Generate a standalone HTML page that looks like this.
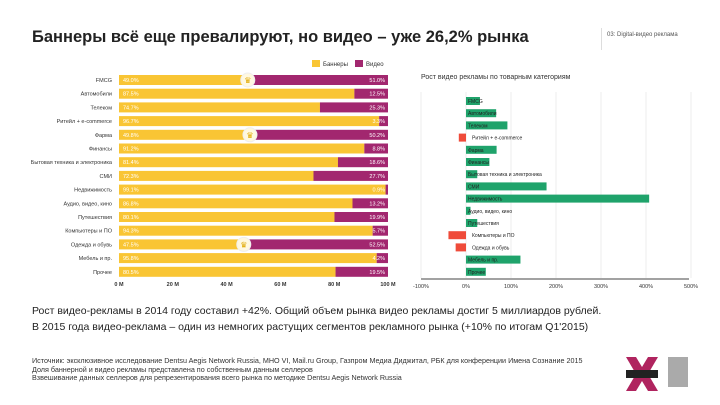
<!DOCTYPE html>
<html><head><meta charset="utf-8">
<style>
body{margin:0;width:720px;height:405px;background:#fff;font-family:"Liberation Sans","Noto Sans CJK SC",sans-serif;overflow:hidden;position:relative}
.t{position:absolute;white-space:nowrap}
</style></head><body>
<div class="t" style="left:32px;top:28px;font-size:16.5px;font-weight:bold;color:#222">Баннеры всё еще превалируют, но видео – уже 26,2% рынка</div>
<div style="position:absolute;left:601px;top:28px;width:1px;height:22px;background:#ddd"></div>
<div class="t" style="left:607px;top:32px;font-size:6px;color:#555">03: Digital-видео реклама</div>
<svg id="c" width="720" height="300" style="position:absolute;left:0;top:0"></svg>
<div class="t" style="left:32px;top:305px;font-size:10.5px;color:#222">Рост видео-рекламы в 2014 году составил +42%. Общий объем рынка видео рекламы достиг 5 миллиардов рублей.</div>
<div class="t" style="left:32px;top:321px;font-size:10.5px;color:#222">В 2015 года видео-реклама – один из немногих растущих сегментов рекламного рынка (+10% по итогам Q1'2015)</div>
<div class="t" style="left:32px;top:357px;font-size:7.2px;color:#333;line-height:8.5px">Источник: эксклюзивное исследование Dentsu Aegis Network Russia, MHO VI, Mail.ru Group, Газпром Медиа Диджитал, РБК для конференции Имена Сознание 2015<br>Доля баннерной и видео рекламы представлена по собственным данным селлеров<br>Взвешивание данных селлеров для репрезентирования всего рынка по методике Dentsu Aegis Network Russia</div>
<svg style="position:absolute;left:622px;top:355px" width="40" height="38"><path d="M4 2 L14 2 L20 12 L26 2 L36 2 L26 19 L36 36 L26 36 L20 26 L14 36 L4 36 L14 19Z" fill="#b0245f"/><rect x="4" y="15" width="32" height="8" fill="#222"/></svg>
<div style="position:absolute;left:668px;top:357px;width:20px;height:30px;background:#aaa"></div>
<script>
const cats=["FMCG","Автомобили","Телеком","Ритейл + e-commerce","Фарма","Финансы","Бытовая техника и электроника","СМИ","Недвижимость","Аудио, видео, кино","Путешествия","Компьютеры и ПО","Одежда и обувь","Мебель и пр.","Прочее"];
const bannerShare=[49,87.5,74.7,96.7,49.8,91.2,81.4,72.3,99.1,86.8,80.1,94.3,47.5,95.8,80.5];
const leftTicks=["0 M","20 M","40 M","60 M","80 M","100 M"];
const growthCats=["FMCG","Автомобили","Телеком","Ритейл + e-commerce","Фарма","Финансы","Бытовая техника и электроника","СМИ","Недвижимость","Аудио, видео, кино","Путешествия","Компьютеры и ПО","Одежда и обувь","Мебель и пр.","Прочее"];
const growth=[31,67,92,-16,68,52,25,179,407,10,25,-39,-23,121,44];
const rightTicks=["-100%","0%","100%","200%","300%","400%","500%"];
const rightTickVals=[-100,0,100,200,300,400,500];
const crowns=[0,4,12];

const svg=document.getElementById('c');const NS="http://www.w3.org/2000/svg";
function mk(t,a,name,txt){const e=document.createElementNS(NS,t);for(const k in a)e.setAttribute(k,a[k]);


if(txt!==undefined)e.textContent=txt;svg.appendChild(e);return e;}
const lx=v=>119+v*2.69, ly=i=>80+i*13.7;
mk('rect',{x:312,y:60,width:8,height:7,fill:'#f9c534'},'legend-banner-swatch');
mk('text',{x:323,y:66,'font-size':6,fill:'#333'},'legend-banner-label','Баннеры');
mk('rect',{x:355,y:60,width:8,height:7,fill:'#a2276f'},'legend-video-swatch');
mk('text',{x:366,y:66,'font-size':6,fill:'#333'},'legend-video-label','Видео');
cats.forEach((c,i)=>{const y=ly(i),b=bannerShare[i];
mk('text',{x:112,y:y+2,'font-size':5.5,'text-anchor':'end',fill:'#333'},'category-label',c);
mk('rect',{x:lx(0),y:y-5,width:lx(b)-lx(0),height:10,fill:'#f9c534'},'bar-banner');
mk('rect',{x:lx(b),y:y-5,width:lx(100)-lx(b),height:10,fill:'#a2276f'},'bar-video');
mk('text',{x:lx(0)+4,y:y+2,'font-size':5.5,fill:'#fff'},'banner-value',b.toFixed(1)+'%');
mk('text',{x:lx(100)-3,y:y+2,'font-size':5.5,'text-anchor':'end',fill:'#fff'},'video-value',(100-b).toFixed(1)+'%');
if(crowns.includes(i)){mk('circle',{cx:lx(b)-3,cy:y,r:7,fill:'#fff8e0',stroke:'#eee'},'leader-badge');
mk('text',{x:lx(b)-3,y:y+3,'font-size':8,'text-anchor':'middle',fill:'#e0a800'},'leader-crown','♛');}
});
leftTicks.forEach((t,i)=>mk('text',{x:lx(i*20),y:286,'font-size':5.5,'text-anchor':'middle',fill:'#333','font-weight':'bold'},'x-tick-left',t));
mk('text',{x:421,y:79,'font-size':7,fill:'#333'},'right-chart-title','Рост видео рекламы по товарным категориям');
const rx=v=>466+v*0.45, ry=i=>101+i*12.2;
rightTickVals.forEach((v,i)=>{mk('line',{x1:rx(v),x2:rx(v),y1:92,y2:278,stroke:'#eee'},'gridline');
mk('text',{x:rx(v),y:288,'font-size':5.5,'text-anchor':'middle',fill:'#333'},'x-tick-right',rightTicks[i]);});
mk('line',{x1:421,x2:689,y1:279,y2:279,stroke:'#444','stroke-width':1},'x-axis-right');
growth.forEach((g,i)=>{const y=ry(i);
mk('rect',{x:Math.min(rx(0),rx(g)),y:y-4,width:Math.abs(rx(g)-rx(0)),height:8,fill:g>=0?'#1fa36b':'#ef4b3a'},'bar-growth');
mk('text',{x:g>=0?468:rx(0)+6,y:y+2,'font-size':5,fill:'#222'},'growth-label',growthCats[i]);});
</script>
</body></html>
